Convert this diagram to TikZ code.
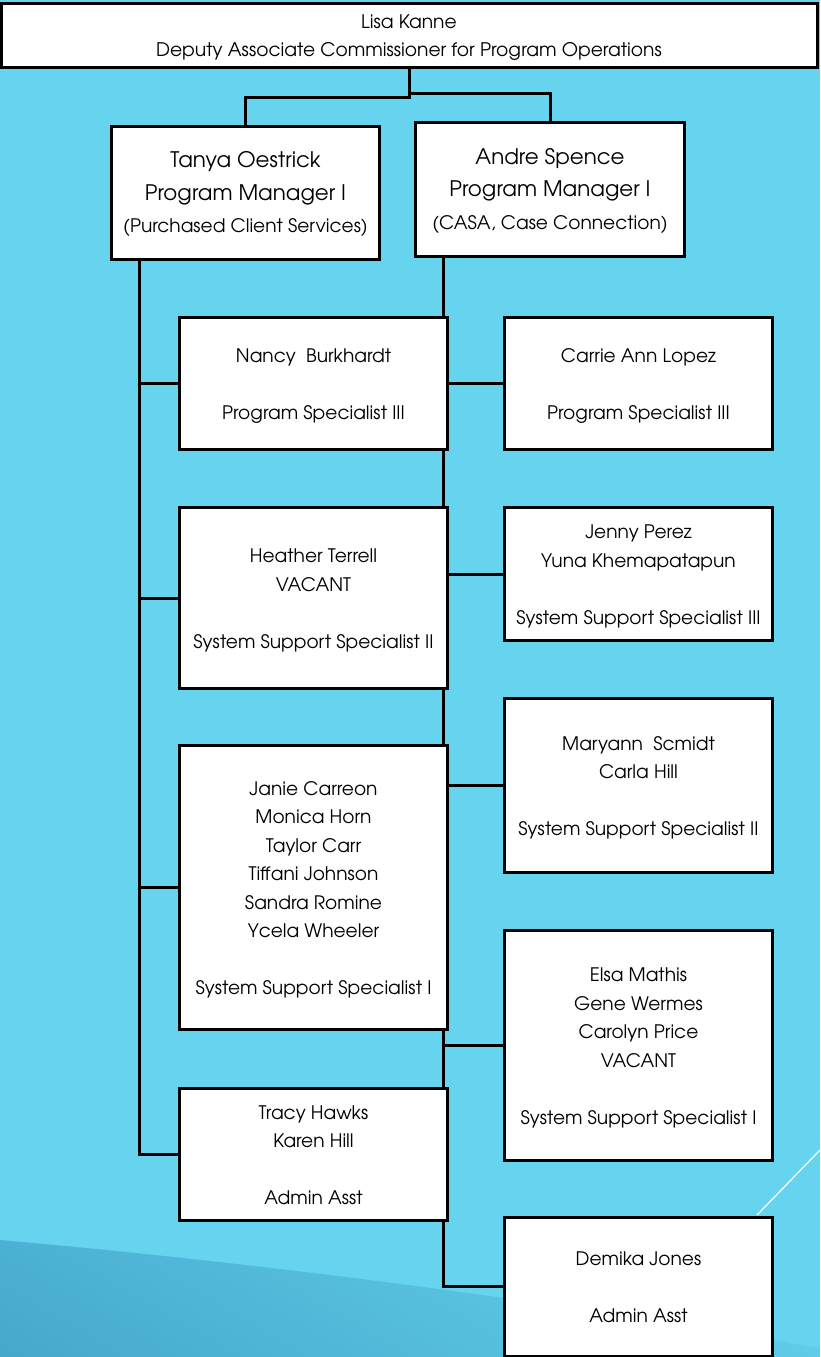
\documentclass[tikz,border=0pt]{standalone}
\usepackage{fontspec}
\setmainfont{TeX Gyre Adventor}
\usetikzlibrary{calc}
\definecolor{sky}{RGB}{102,212,238}
\definecolor{deepsky}{RGB}{70,168,205}
% even out the first line height and last line depth of a box text
\newcommand{\boxtext}[1]{\rule{0pt}{19pt}#1\rule[-4pt]{0pt}{0pt}}
\tikzset{
  conn/.style={draw=black, line width=3pt},
  orgbox/.style={draw=black, line width=3pt, fill=white, align=center,
    inner sep=0pt, font=\fontsize{18.6}{28.5}\selectfont},
}
\begin{document}
\begin{tikzpicture}[x=1pt,y=-1pt]
\useasboundingbox (0,0) rectangle (820,1357);
% backdrop with a soft darker sweep in the lower left
\fill[sky] (0,0) rectangle (820,1357);
\begin{scope}
  \clip (0,1240) .. controls (250,1262) and (550,1300) .. (820,1348) -- (820,1357) -- (0,1357) -- cycle;
  \shade[top color=sky, bottom color=deepsky, shading angle=-30] (-100,1200) rectangle (920,1400);
\end{scope}
\draw[white, line width=1.2pt] (757,1215) -- (820,1150);

% spine positions under the two managers
\coordinate (tspine) at (139,0);
\coordinate (aspine) at (443,0);

% head and managers
\path
  node[orgbox, minimum width=816, minimum height=64, font=\fontsize{18.7}{28}\selectfont] (top) at (409,35)
    {\boxtext{Lisa Kanne\\Deputy Associate Commissioner for Program Operations}}
  node[orgbox, minimum width=268, minimum height=133, font=\fontsize{21.4}{32.5}\selectfont] (tanya) at (245.5,193)
    {\boxtext{Tanya Oestrick\\Program Manager I\\{\fontsize{18.6}{32.5}\selectfont (Purchased Client Services)}}}
  node[orgbox, minimum width=269, minimum height=134, font=\fontsize{21.4}{32.5}\selectfont] (andre) at (550,189.5)
    {\boxtext{Andre Spence\\Program Manager I\\{\fontsize{18.6}{32.5}\selectfont (CASA, Case Connection)}}};

% connectors from the top box to the managers
\draw[conn] (top.south) -- ++(0,29) -| (tanya.north);
\draw[conn] (top.south) -- ++(0,25) -| (andre.north);

% spines
\draw[conn] (tanya.south -| tspine) -- (tspine |- 0,1154.5) -- (179,1154.5);
\draw[conn] (andre.south -| aspine) -- (aspine |- 0,1286.5) -- (504,1286.5);

% branches off the spines
\draw[conn] (139,383.5) -- (179,383.5);
\draw[conn] (139,598) -- (179,598);
\draw[conn] (139,887.5) -- (179,887.5);
\draw[conn] (443,383.5) -- (504,383.5);
\draw[conn] (443,574) -- (504,574);
\draw[conn] (443,785.5) -- (504,785.5);
\draw[conn] (443,1045.5) -- (504,1045.5);

% staff boxes
\node[orgbox, minimum width=268, minimum height=132] (nancy) at (313.5,383.5)
  {\boxtext{Nancy\ \ Burkhardt\\[28.5pt]Program Specialist III}};
\node[orgbox, minimum width=268, minimum height=132] (carrie) at (638.5,383.5)
  {\boxtext{Carrie Ann Lopez\\[28.5pt]Program Specialist III}};
\node[orgbox, minimum width=268, minimum height=181] (heather) at (313.5,598)
  {\boxtext{Heather Terrell\\VACANT\\[28.5pt]System Support Specialist II}};
\node[orgbox, minimum width=268, minimum height=133] (jenny) at (638.5,574)
  {\boxtext{Jenny Perez\\Yuna Khemapatapun\\[28.5pt]System Support Specialist III}};
\node[orgbox, minimum width=268, minimum height=174] (maryann) at (638.5,785.5)
  {\boxtext{Maryann\ \ Scmidt\\Carla Hill\\[28.5pt]System Support Specialist II}};
\node[orgbox, minimum width=268, minimum height=284] (janie) at (313.5,887.5)
  {\boxtext{Janie Carreon\\Monica Horn\\Taylor Carr\\Tiffani Johnson\\Sandra Romine\\Ycela Wheeler\\[28.5pt]System Support Specialist I}};
\node[orgbox, minimum width=268, minimum height=230] (elsa) at (638.5,1045.5)
  {\boxtext{Elsa Mathis\\Gene Wermes\\Carolyn Price\\VACANT\\[28.5pt]System Support Specialist I}};
\node[orgbox, minimum width=268, minimum height=132] (tracy) at (313.5,1154.5)
  {\boxtext{Tracy Hawks\\Karen Hill\\[28.5pt]Admin Asst}};
\node[orgbox, minimum width=268, minimum height=139] (demika) at (638.5,1286.5)
  {\boxtext{Demika Jones\\[28.5pt]Admin Asst}};
\end{tikzpicture}
\end{document}
